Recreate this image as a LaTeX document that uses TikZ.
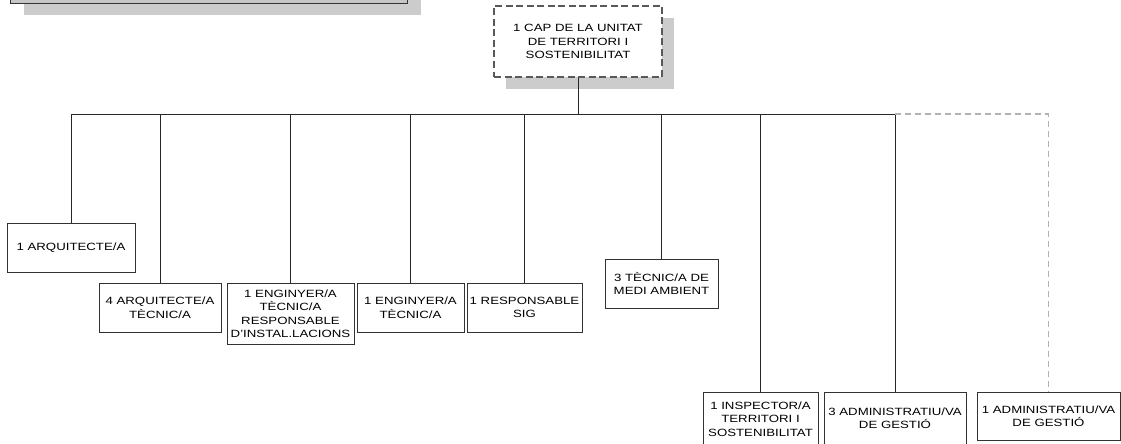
\documentclass[tikz,border=0pt]{standalone}
\usepackage{fontspec}
\setmainfont{Liberation Sans}[FakeStretch=1.26]
\usetikzlibrary{shadows}
\tikzset{unit/.style={draw=black!80,line width=0.8pt,fill=white,inner sep=0pt,
    align=center,font=\fontsize{10.5}{13.5}\selectfont},
  head/.style={unit,draw=black!65,line width=1.5pt,dash pattern=on 7pt off 3.5pt,
    drop shadow={shadow xshift=12pt,shadow yshift=-12pt,fill=gray!40,opacity=1}},
  link/.style={black!85,line width=0.8pt},
  vacant/.style={gray!60,line width=1.3pt,dash pattern=on 6pt off 4pt}}
\begin{document}
\begin{tikzpicture}[x=1pt,y=-1pt]
\useasboundingbox (0,0) rectangle (1121,444);
\clip (0,0) rectangle (1121,444);
\node[unit,fill=gray!45,minimum width=397pt,minimum height=43pt,
  drop shadow={shadow xshift=14pt,shadow yshift=-12pt,fill=gray!40,opacity=1}]
  (prev) at (208.5,-18.5) {};
\node[head,minimum width=168pt,minimum height=71pt] (cap) at (578,41.5)
  {1 CAP DE LA UNITAT\\DE TERRITORI I\\SOSTENIBILITAT};
\coordinate (bus) at (578,114);
\node[unit,minimum width=128pt,minimum height=49pt] (b1) at (71,247.5) {1 ARQUITECTE/A};
\node[unit,minimum width=122pt,minimum height=49pt] (b2) at (160,307.5) {4 ARQUITECTE/A\\TÈCNIC/A};
\node[unit,minimum width=127pt,minimum height=61pt] (b3) at (290.5,313.5)
  {1 ENGINYER/A\\TÈCNIC/A\\RESPONSABLE\\D'INSTAL.LACIONS};
\node[unit,minimum width=107pt,minimum height=49pt] (b4) at (410.5,307.5) {1 ENGINYER/A\\TÈCNIC/A};
\node[unit,minimum width=115pt,minimum height=49pt] (b5) at (524.5,307.5) {1 RESPONSABLE\\SIG};
\node[unit,minimum width=113pt,minimum height=49pt] (b6) at (661.5,283.5) {3 TÈCNIC/A DE\\MEDI AMBIENT};
\node[unit,minimum width=115pt,minimum height=54pt] (b7) at (760.5,419)
  {1 INSPECTOR/A\\TERRITORI I\\SOSTENIBILITAT};
\node[unit,minimum width=142pt,minimum height=52pt] (b8) at (895,418) {3 ADMINISTRATIU/VA\\DE GESTIÓ};
\node[unit,minimum width=143pt,minimum height=48pt] (b9) at (1048.5,416) {1 ADMINISTRATIU/VA\\DE GESTIÓ};
\draw[link] (cap) -- (bus);
\draw[link] (b1.north |- bus) -- (b8.north |- bus);
\foreach \b in {b1,b2,b3,b4,b5,b6,b7,b8}
  \draw[link] (\b.north |- bus) -- (\b.north);
\draw[vacant] (b8.north |- bus) -- (b9.north |- bus) -- (b9.north);
\end{tikzpicture}
\end{document}
